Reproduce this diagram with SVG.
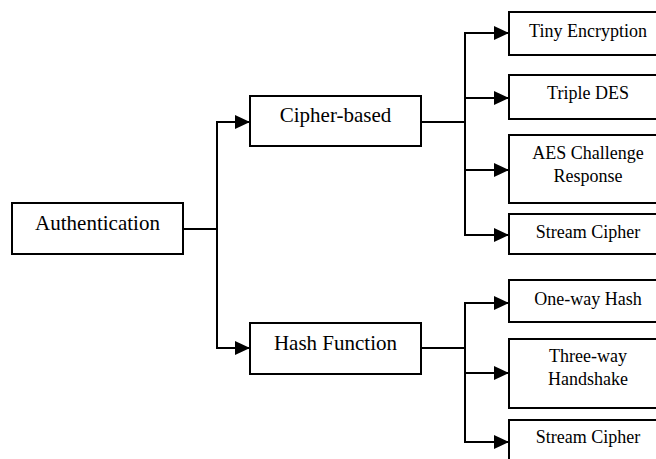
<svg xmlns="http://www.w3.org/2000/svg" width="656" height="459" viewBox="0 0 656 459">
<defs>
<style>
.box{fill:#fff;stroke:#000;stroke-width:2}
.big{font-family:"Liberation Serif","Times New Roman",serif;font-size:21px;fill:#000;text-anchor:middle}
.small{font-family:"Liberation Serif","Times New Roman",serif;font-size:18px;fill:#000;text-anchor:middle}
.conn{fill:none;stroke:#000;stroke-width:2}
</style>
<marker id="arr" markerUnits="userSpaceOnUse" markerWidth="16" markerHeight="16" refX="15" refY="7" orient="auto">
<path d="M0,0 L15,7 L0,14 z" fill="#000"/>
</marker>
</defs>
<rect width="656" height="459" fill="#fff"/>
<g id="connectors">
<path class="conn" d="M183,229 H217 V122 H250" marker-end="url(#arr)"/>
<path class="conn" d="M217,229 V348 H250" marker-end="url(#arr)"/>
<path class="conn" d="M421,122 H465 V33 H509" marker-end="url(#arr)"/>
<path class="conn" d="M465,98 H509" marker-end="url(#arr)"/>
<path class="conn" d="M465,122 V170 H509" marker-end="url(#arr)"/>
<path class="conn" d="M465,170 V235 H509" marker-end="url(#arr)"/>
<path class="conn" d="M421,348 H465 V303 H509" marker-end="url(#arr)"/>
<path class="conn" d="M465,348 V373 H509" marker-end="url(#arr)"/>
<path class="conn" d="M465,373 V442 H509" marker-end="url(#arr)"/>
</g>
<g id="authentication">
<rect class="box" x="12" y="203" width="171" height="51"/>
<text class="big" x="97.5" y="230">Authentication</text>
</g>
<g id="cipher-based">
<rect class="box" x="250" y="96" width="171" height="50"/>
<text class="big" x="335.5" y="122">Cipher-based</text>
</g>
<g id="hash-function">
<rect class="box" x="250" y="323" width="171" height="51"/>
<text class="big" x="335.5" y="350">Hash Function</text>
</g>
<g id="tiny-encryption">
<rect class="box" x="509" y="12" width="158" height="43"/>
<text class="small" x="588" y="37">Tiny Encryption</text>
</g>
<g id="triple-des">
<rect class="box" x="509" y="75" width="158" height="44"/>
<text class="small" x="588" y="99">Triple DES</text>
</g>
<g id="aes-challenge-response">
<rect class="box" x="509" y="135" width="158" height="68"/>
<text class="small" x="588" y="159">AES Challenge</text>
<text class="small" x="588" y="182">Response</text>
</g>
<g id="stream-cipher-1">
<rect class="box" x="509" y="214" width="158" height="40"/>
<text class="small" x="588" y="238">Stream Cipher</text>
</g>
<g id="one-way-hash">
<rect class="box" x="509" y="280" width="158" height="42"/>
<text class="small" x="588" y="305">One-way Hash</text>
</g>
<g id="three-way-handshake">
<rect class="box" x="509" y="339" width="158" height="69"/>
<text class="small" x="588" y="362">Three-way</text>
<text class="small" x="588" y="385">Handshake</text>
</g>
<g id="stream-cipher-2">
<rect class="box" x="509" y="420" width="158" height="50"/>
<text class="small" x="588" y="443">Stream Cipher</text>
</g>
</svg>
